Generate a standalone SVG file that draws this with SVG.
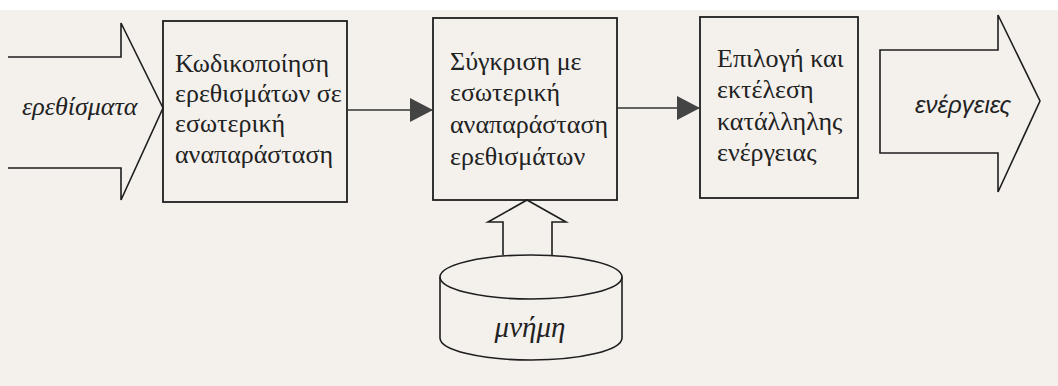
<svg xmlns="http://www.w3.org/2000/svg" width="1058" height="386" viewBox="0 0 1058 386">
<style>
.sh{fill:none;stroke:#1e1e1e;stroke-width:1.6;stroke-linejoin:miter}
.bx{fill:none;stroke:#1e1e1e;stroke-width:1.8}
.t{font-family:'Liberation Serif','DejaVu Serif',serif;font-size:26px;fill:#222}
.ti{font-family:'Liberation Serif','DejaVu Serif',serif;font-size:26px;font-style:italic;fill:#222}
.ts{font-family:'Liberation Sans','DejaVu Sans',sans-serif;font-size:24px;font-style:italic;fill:#222}
.cn{stroke:#333;stroke-width:1.6;fill:none}
</style>
<defs>
<marker id="ah" markerWidth="24" markerHeight="24" refX="23" refY="12" orient="auto" markerUnits="userSpaceOnUse">
<path d="M0,0 L23,12 L0,24 Z" fill="#444"/>
</marker>
</defs>
<rect x="0" y="0" width="1058" height="386" fill="#f4f1ed"/>
<rect x="0" y="0" width="1058" height="10" fill="#ffffff"/>
<g id="input">
<path class="sh" d="M8,57 H121 V23 L163,108 L121,200 V168 H8"/>
<text class="ti" x="22" y="115">ερεθίσματα</text>
</g>
<g id="encode">
<rect class="bx" x="163" y="21" width="184" height="181"/>
<text class="t" x="175" y="72">Κωδικοποίηση</text>
<text class="t" x="175" y="102">ερεθισμάτων σε</text>
<text class="t" x="175" y="132">εσωτερική</text>
<text class="t" x="175" y="163">αναπαράσταση</text>
</g>
<g id="compare">
<rect class="bx" x="433" y="18" width="184" height="182"/>
<text class="t" x="450" y="70">Σύγκριση με</text>
<text class="t" x="450" y="101">εσωτερική</text>
<text class="t" x="450" y="133">αναπαράσταση</text>
<text class="t" x="450" y="165">ερεθισμάτων</text>
</g>
<g id="select">
<rect class="bx" x="700" y="17" width="158" height="181"/>
<text class="t" x="717" y="67">Επιλογή και</text>
<text class="t" x="717" y="98">εκτέλεση</text>
<text class="t" x="717" y="130">κατάλληλης</text>
<text class="t" x="717" y="161">ενέργειας</text>
</g>
<g id="output">
<path class="sh" d="M880,50 H998 V15 L1040,101 L998,192 V153 H880 Z"/>
<text class="ts" x="915" y="113">ενέργειες</text>
</g>
<g id="memory">
<path class="sh" d="M440,277 V338 A91,22 0 0 0 622,338 V277"/>
<ellipse class="sh" cx="531" cy="277" rx="91" ry="22"/>
<text class="ti" x="530" y="337" text-anchor="middle" style="font-size:29px">μνήμη</text>
</g>
<g id="connectors">
<line class="cn" x1="347" y1="110" x2="433" y2="110" marker-end="url(#ah)"/>
<line class="cn" x1="617" y1="108" x2="700" y2="108" marker-end="url(#ah)"/>
<path class="sh" d="M503,255 V222 H488 L527,200 L566,222 H552 V255"/>
</g>
</svg>
